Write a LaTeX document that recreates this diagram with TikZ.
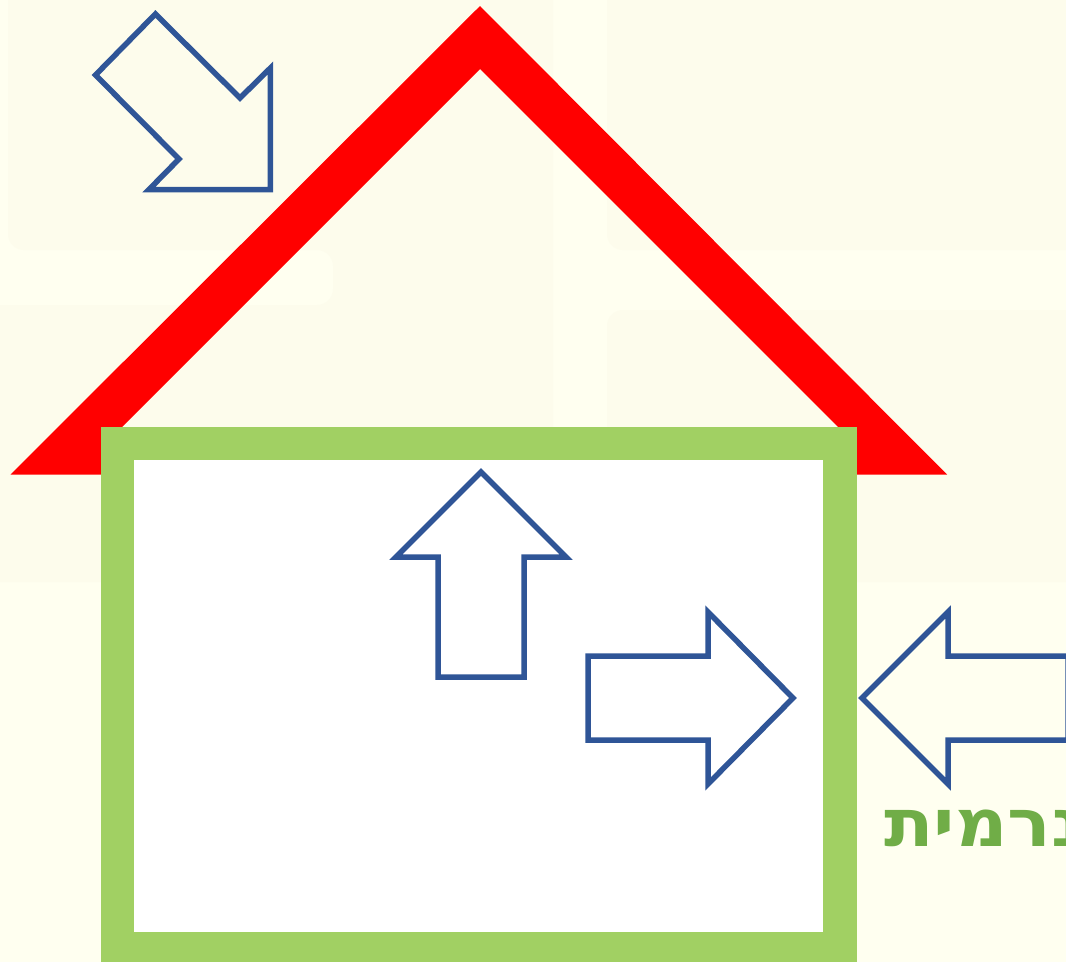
\documentclass[tikz,border=0pt]{standalone}
\usepackage{fontspec}
\setmainfont{DejaVu Sans}
\newfontfamily\hebfont[Script=Hebrew,FakeStretch=1.1]{DejaVu Sans}
\TeXXeTstate=1
\definecolor{pagebg}{HTML}{FFFFF0}
\definecolor{panelbg}{HTML}{FDFCEC}
\definecolor{roofred}{HTML}{FF0000}
\definecolor{wallgreen}{HTML}{A1D063}
\definecolor{textgreen}{HTML}{70AD47}
\definecolor{arrowblue}{HTML}{2F5597}
\tikzset{
  panel/.style={fill=panelbg, rounded corners=16pt},
  wall/.style={fill=wallgreen},
  heatarrow/.style={draw=arrowblue, line width=5.5pt, miter limit=10},
  heatlabel/.style={text=textgreen, font=\hebfont\bfseries\fontsize{66pt}{66pt}\selectfont, inner sep=0pt, anchor=base west}
}
\begin{document}
\begin{tikzpicture}[x=1pt,y=-1pt]

% ---- Page and background ----
            \clip (0,0) rectangle (1066,962);
            \fill[pagebg] (0,0) rectangle (1066,962);

% ---- Background panels ----
            \fill[panel] (8,-30) -- (8,250) -- (333,250) -- (333,305) -- (-30,305) -- (-30,582)
                -- (553,582) -- (553,-30) -- cycle;
            \fill[panel] (607,-30) -- (607,250) -- (1100,250) -- (1100,-30) -- cycle;
            \fill[panel] (607,310) -- (607,582) -- (1100,582) -- (1100,310) -- cycle;

% ---- Roof ----
            \fill[roofred] (10.5,474.5) -- (480,6) -- (947,474.5) -- (838,474.5) -- (838,427)
                -- (480,69) -- (122,427) -- (122,474.5) -- cycle;

% ---- Walls ----
            \fill[wall] (101,427) rectangle (857,962);
            \fill[white] (134,460) rectangle (823,932);

% ---- Radiation arrows ----
            \draw[heatarrow] (155.4,14) -- (95.5,75) -- (179,159) -- (149,189.5) -- (270.4,189.5)
                -- (270.4,68) -- (240,98) -- cycle;
            \draw[heatarrow] (481,472) -- (396,557) -- (438,557) -- (438,677) -- (524,677)
                -- (524,557) -- (566,557) -- cycle;
            \draw[heatarrow] (793,698) -- (708,612) -- (708,656) -- (588,656) -- (588,740)
                -- (708,740) -- (708,784) -- cycle;
            \draw[heatarrow] (862,698) -- (948,612) -- (948,656) -- (1068,656) -- (1068,740)
                -- (948,740) -- (948,784) -- cycle;

% ---- Label ----
            \node[heatlabel] (heatname) at (884,846) {\beginR נרמית\endR};

\end{tikzpicture}
\end{document}
